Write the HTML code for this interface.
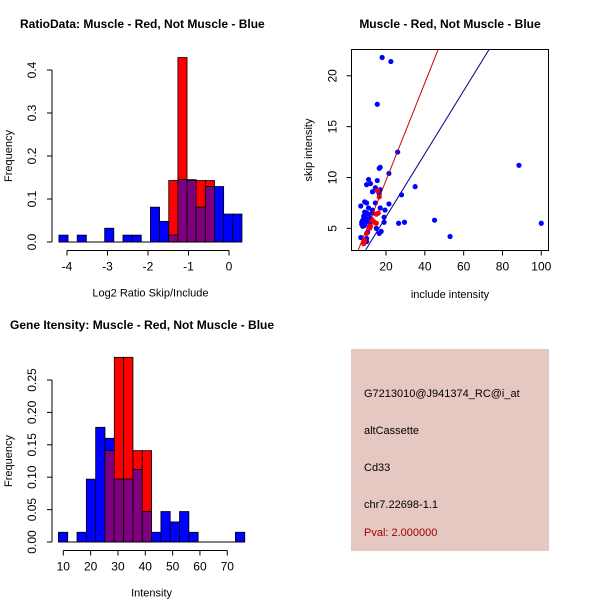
<!DOCTYPE html>
<html><head><meta charset="utf-8"><style>body{margin:0;background:#fff}svg{display:block;font-family:"Liberation Sans",sans-serif}</style></head>
<body>
<svg id="s" width="600" height="600" viewBox="0 0 600 600"></svg>
<script>
// Histogram 1 data (log2 ratio)
const h1Start = -4.2, h1Width = 0.226;
const h1Blue = [0.016,0,0.016,0,0,0.032,0,0.016,0.016,0,0.081,0.048,0.016,0.145,0.145,0.081,0.129,0.129,0.065,0.065];
const h1Red  = [0,0,0,0,0,0,0,0,0,0,0,0,0.143,0.429,0.143,0.143,0.143,0,0,0];
const h1XTicks = [-4,-3,-2,-1,0];
const h1YTicks = [0,0.1,0.2,0.3,0.4];
// Histogram 2 data (intensity)
const h2Start = 8.2, h2Width = 3.41;
const h2Blue = [0.015,0,0.015,0.097,0.177,0.16,0.097,0.097,0.112,0.047,0.015,0.047,0.031,0.047,0.015,0,0,0,0,0.015];
const h2Red  = [0,0,0,0,0,0.141,0.285,0.285,0.141,0.141,0,0,0,0,0,0,0,0,0,0];
const h2XTicks = [10,20,30,40,50,60,70];
const h2YTicks = [0,0.05,0.1,0.15,0.2,0.25];
// Scatter data
const blueX = [18,22.5,15.5,26,88.5,100,16.5,17,21.5,11,15.5,12,10,35,14.5,17,13,28,16.5,14.5,21.5,9,10,7,17,19.5,11,13,9,10,11,8.5,9.5,12,8,10,11.5,19,19,26.5,29.5,45,15,12,8,7.5,9,10.5,53,7,16.5,17.5,10,8.5,10,13,7.5];
const blueY = [21.8,21.4,17.2,12.5,11.2,5.5,10.9,11,10.4,9.8,9.7,9.4,9.3,9.1,9,8.8,8.6,8.3,8.4,7.5,7.4,7.6,7.5,7.2,7,6.8,7,6.8,6.6,6.5,6.4,6.2,6,6,5.8,5.7,5.5,6.1,5.6,5.5,5.6,5.8,5,5.2,5.2,5.6,5.3,4.6,4.2,4.1,4.5,4.7,4,3.6,3.7,6.5,5.4];
const redX = [15.5,16.5,16,15,13,14,15,12,11.5,10,9,8.5];
const redY = [8.7,8.1,6.5,6.4,5.8,5.6,5.5,5.2,5,4.5,3.8,3.5];
const redLine = [0.14,0.479];   // intercept, slope
const blueLine = [-0.07,0.31];
const scXTicks = [20,40,60,80,100];
const scYTicks = [5,10,15,20];

const svg = document.getElementById('s');
const NS = 'http://www.w3.org/2000/svg';
function mk(tag, attrs, parent){const e=document.createElementNS(NS,tag);for(const k in attrs)e.setAttribute(k,attrs[k]);(parent||svg).appendChild(e);return e;}
function txt(x,y,s,attrs,parent){const e=mk('text',Object.assign({x:x,y:y},attrs||{}),parent);e.textContent=s;return e;}

function hist(name, start, width, blue, red, xt, yt, xPx0, xPxPer, x0v, y0, yPer, xlabel, axisY, yAxisX){
  const g = mk('g',{});
  
  
  const X = v => xPx0 + (v - x0v) * xPxPer;
  const Y = v => y0 - v * yPer;
  for (let i=0;i<blue.length;i++){
    const xa = X(start+i*width), xb = X(start+(i+1)*width);
    const b = blue[i], r = red[i], m = Math.min(b,r);
    if (r>0){ const e=mk('rect',{x:xa,y:Y(r),width:xb-xa,height:Y(0)-Y(r),fill:'#ff0000',stroke:'#000','stroke-width':0.8},g);
        }
    if (b>0){ const e=mk('rect',{x:xa,y:Y(b),width:xb-xa,height:Y(0)-Y(b),fill:'#0000ff',stroke:'#000','stroke-width':0.8},g);
        }
    if (m>0){ const e=mk('rect',{x:xa,y:Y(m),width:xb-xa,height:Y(0)-Y(m),fill:'#7f007f',stroke:'#000','stroke-width':0.8},g);
        }
  }
  mk('line',{x1:X(start),x2:X(start+blue.length*width),y1:y0,y2:y0,stroke:'#000'},g);
  mk('line',{x1:X(xt[0]),x2:X(xt[xt.length-1]),y1:axisY,y2:axisY,stroke:'#000'},g);
  xt.forEach(t=>{mk('line',{x1:X(t),x2:X(t),y1:axisY,y2:axisY+5,stroke:'#000'},g);txt(X(t),axisY+20,String(t),{'font-size':12,'text-anchor':'middle'},g);});
  mk('line',{x1:yAxisX,x2:yAxisX,y1:Y(yt[0]),y2:Y(yt[yt.length-1]),stroke:'#000'},g);
  yt.forEach(t=>{mk('line',{x1:yAxisX,x2:yAxisX-5,y1:Y(t),y2:Y(t),stroke:'#000'},g);
    const lab = yt[1]<0.1 ? t.toFixed(2) : t.toFixed(1);
    txt(yAxisX-16,Y(t),lab,{'font-size':12,'text-anchor':'middle',transform:`rotate(-90 ${yAxisX-16} ${Y(t)})`},g);});
  txt((X(start)+X(start+blue.length*width))/2,axisY+46,xlabel,{'font-size':11,'text-anchor':'middle'},g);
  txt(12,(Y(yt[0])+Y(yt[yt.length-1]))/2,'Frequency',{'font-size':11,'text-anchor':'middle',transform:`rotate(-90 12 ${(Y(yt[0])+Y(yt[yt.length-1]))/2})`},g);
}
hist('ratio-histogram',h1Start,h1Width,h1Blue,h1Red,h1XTicks,h1YTicks,229,40.5,0,242,430,'Log2 Ratio Skip/Include',250.5,52);
hist('intensity-histogram',h2Start,h2Width,h2Blue,h2Red,h2XTicks,h2YTicks,63.3,2.733,10,542,648,'Intensity',550.5,52);

// Scatter
(function(){
  const g = mk('g',{});
  
  
  const X = v => 347.2 + v*1.941, Y = v => 279.2 - v*10.17;
  const L=351.5,R=548.5,T=49.5,B=250.5;
  const cp = mk('clipPath',{id:'cp'},g); mk('rect',{x:L,y:T,width:R-L,height:B-T},cp);
  const pg = mk('g',{'clip-path':'url(#cp)'},g);
  for(let i=0;i<blueX.length;i++){const c=mk('circle',{cx:X(blueX[i]),cy:Y(blueY[i]),r:2.6,fill:'#0000ff'},pg);
     }
  for(let i=0;i<redX.length;i++){const c=mk('circle',{cx:X(redX[i]),cy:Y(redY[i]),r:2.6,fill:'#ff0000'},pg);
     }
  const rl=mk('line',{x1:X(0),y1:Y(redLine[0]),x2:X(100),y2:Y(redLine[0]+redLine[1]*100),stroke:'#cc0000','stroke-width':1},pg);
   
  const bl=mk('line',{x1:X(0),y1:Y(blueLine[0]),x2:X(100),y2:Y(blueLine[0]+blueLine[1]*100),stroke:'#00008b','stroke-width':1},pg);
   
  mk('rect',{x:L,y:T,width:R-L,height:B-T,fill:'none',stroke:'#000'},g);
  scXTicks.forEach(t=>{mk('line',{x1:X(t),x2:X(t),y1:B,y2:B+5,stroke:'#000'},g);txt(X(t),B+20,String(t),{'font-size':12,'text-anchor':'middle'},g);});
  scYTicks.forEach(t=>{mk('line',{x1:L,x2:L-5,y1:Y(t),y2:Y(t),stroke:'#000'},g);txt(L-15,Y(t),String(t),{'font-size':12,'text-anchor':'middle',transform:`rotate(-90 ${L-15} ${Y(t)})`},g);});
  txt(450,298,'include intensity',{'font-size':11,'text-anchor':'middle'},g);
  txt(312,150,'skip intensity',{'font-size':11,'text-anchor':'middle',transform:'rotate(-90 312 150)'},g);
})();
</script>
<svg width="600" height="600" style="position:absolute;left:0;top:0">
  <text x="20" y="28" font-size="12" font-weight="bold" font-family="Liberation Sans, sans-serif">RatioData: Muscle - Red, Not Muscle - Blue</text>
  <text x="450" y="28" font-size="12" font-weight="bold" text-anchor="middle" font-family="Liberation Sans, sans-serif">Muscle - Red, Not Muscle - Blue</text>
  <text x="10" y="329" font-size="12" font-weight="bold" font-family="Liberation Sans, sans-serif">Gene Itensity: Muscle - Red, Not Muscle - Blue</text>
  <rect x="351" y="349" width="198" height="202" fill="#e6c8c2"/>
  <g font-size="11" font-family="Liberation Sans, sans-serif">
    <text x="364" y="397">G7213010@J941374_RC@i_at</text>
    <text x="364" y="434">altCassette</text>
    <text x="364" y="471">Cd33</text>
    <text x="364" y="508">chr7.22698-1.1</text>
    <text x="364" y="536" fill="#a00000">Pval: 2.000000</text>
  </g>
</svg>
</body></html>
